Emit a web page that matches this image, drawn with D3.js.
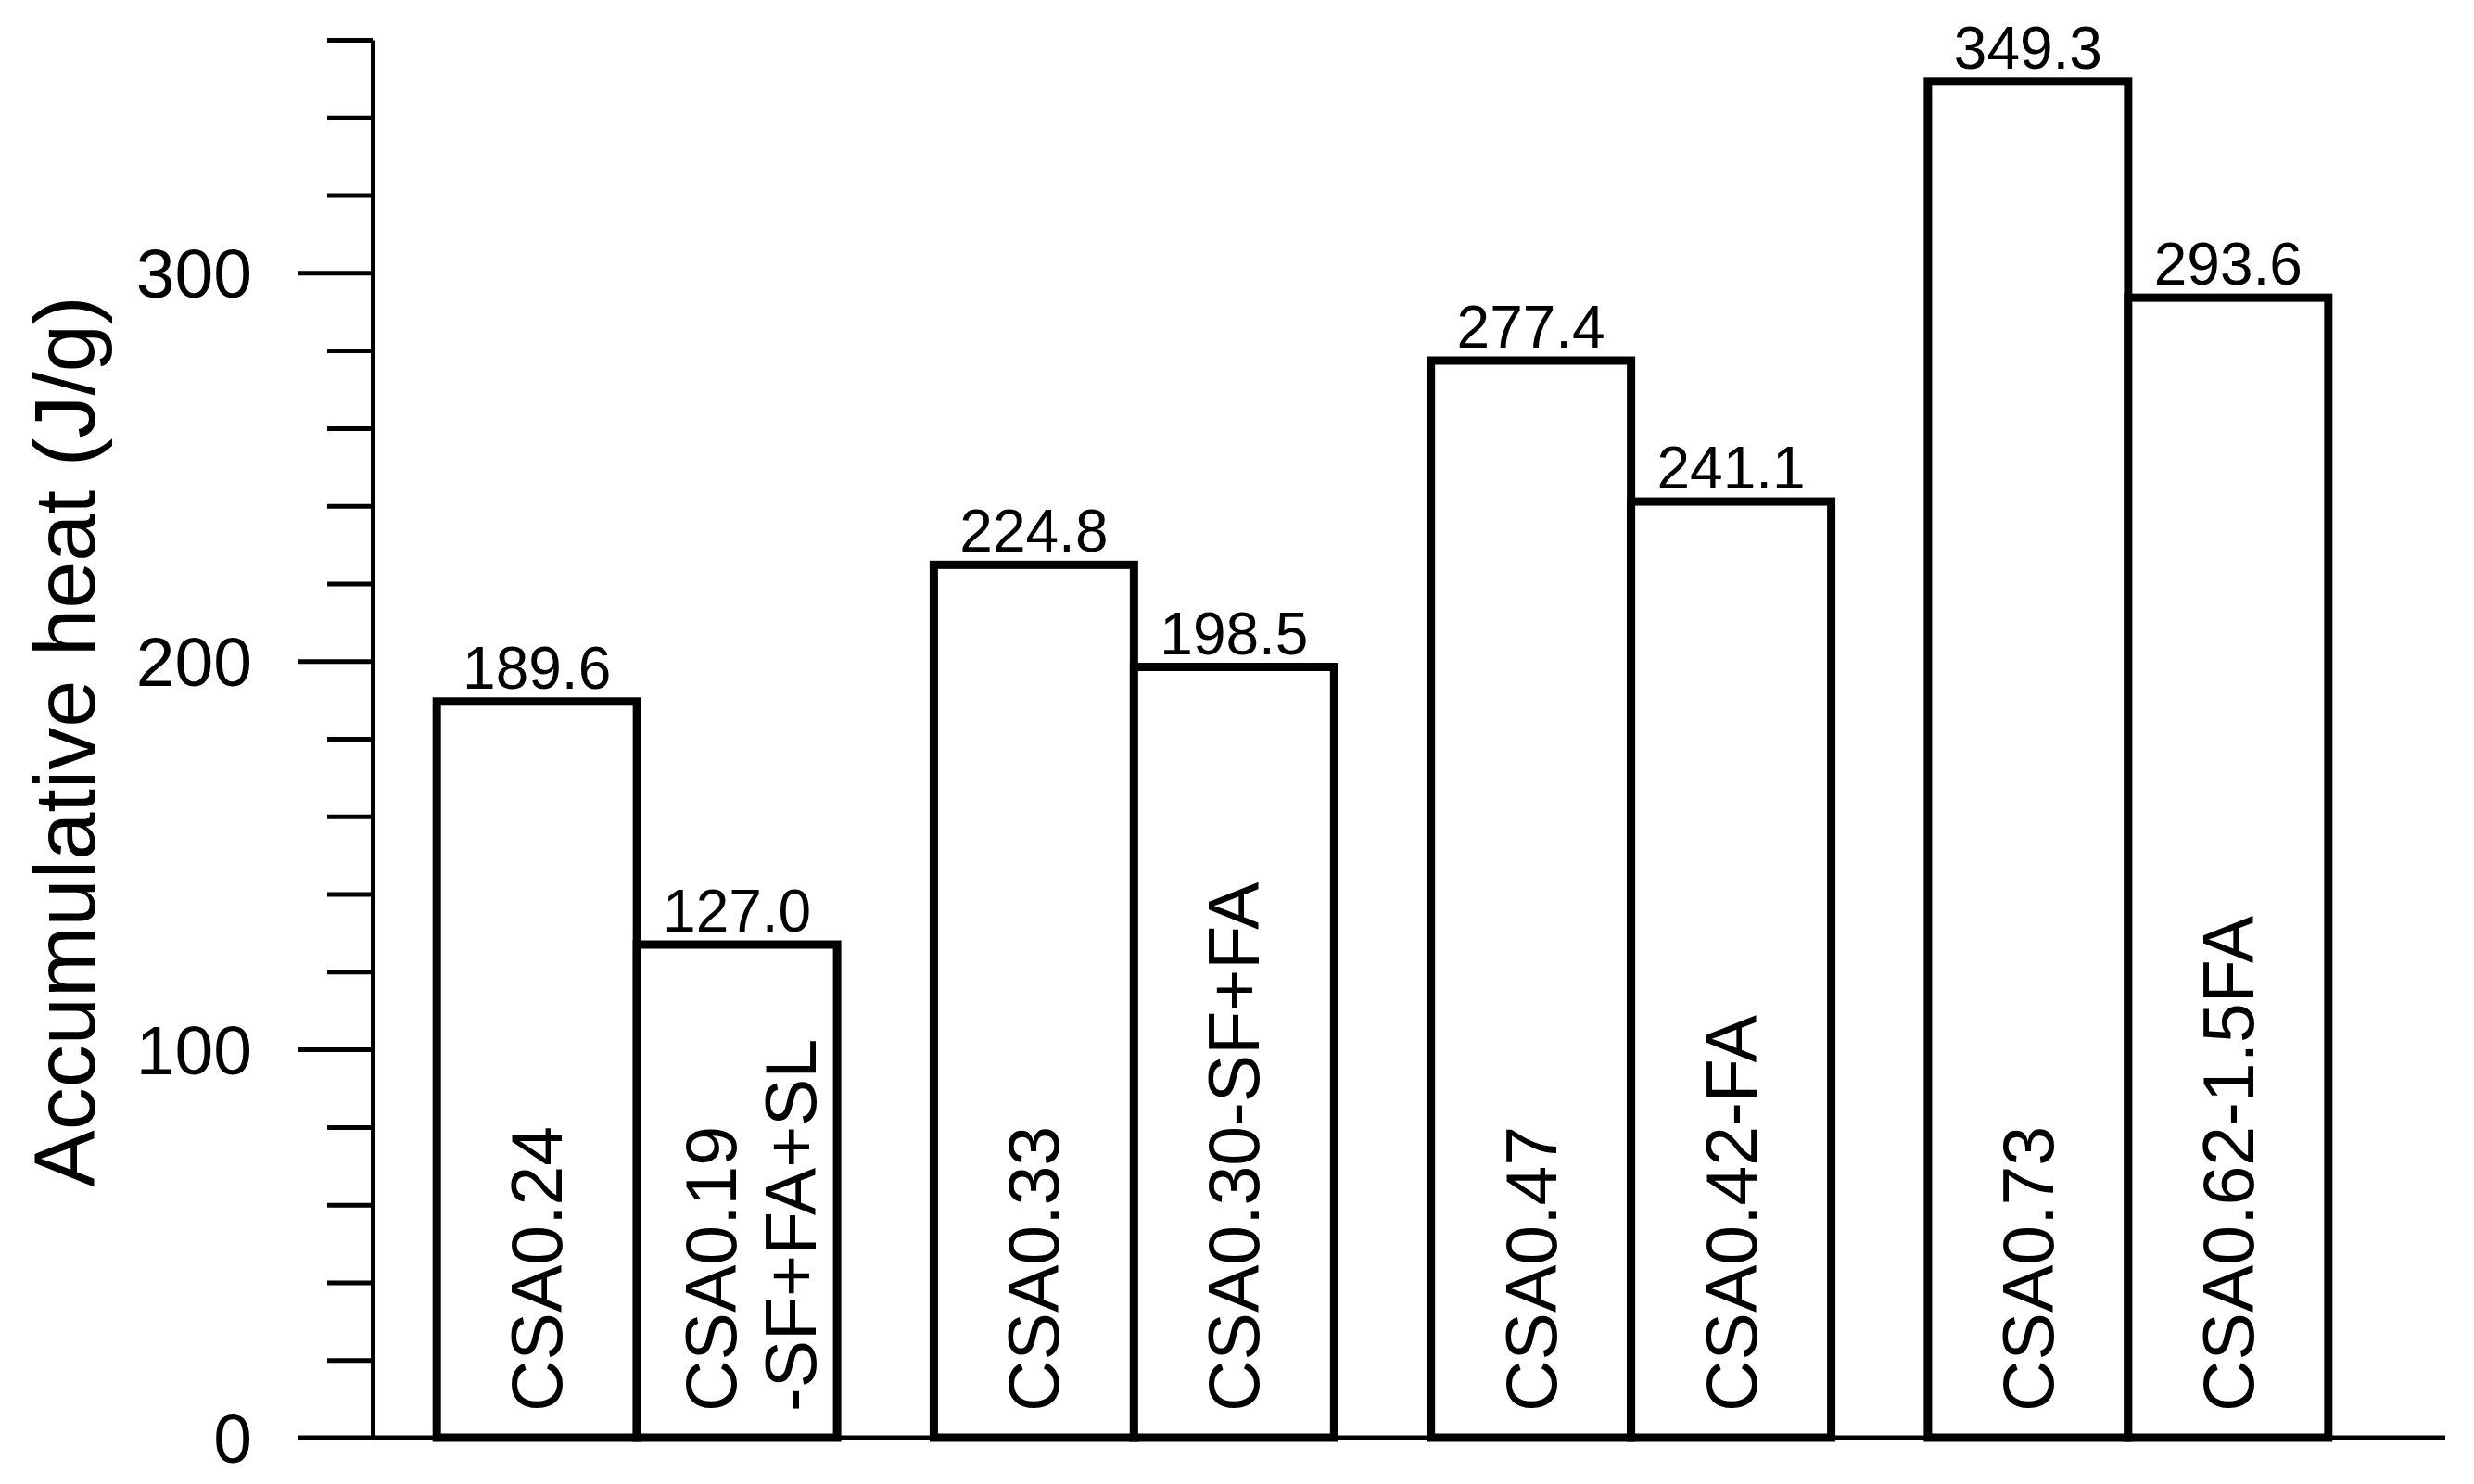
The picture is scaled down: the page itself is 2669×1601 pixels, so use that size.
<!DOCTYPE html>
<html>
<head>
<meta charset="utf-8">
<script src="https://cdn.jsdelivr.net/npm/d3@7"></script>
<style>
  body { margin: 0; background: #fff; }
  text { font-family: "Liberation Sans", Arial, sans-serif; fill: #000; }
</style>
</head>
<body>
<svg width="2669" height="1601"></svg>
<script>
// plain mixes and their blended counterparts, side by side in each group
const plainMixes = ["CSA0.24", "CSA0.33", "CSA0.47", "CSA0.73"];
const plainHeat = [189.6, 224.8, 277.4, 349.3];
const blendMixes = [["CSA0.19", "-SF+FA+SL"], ["CSA0.30-SF+FA"], ["CSA0.42-FA"], ["CSA0.62-1.5FA"]];
const blendHeat = [127.0, 198.5, 241.1, 293.6];
const yMajor = [0, 100, 200, 300];
const yMinorStep = 20;
const yMax = 360;

var svg = d3.select("svg");

var axisX = 402, baseY = 1551, topY = 43;

var y = d3.scaleLinear().domain([0, yMax]).range([baseY, topY]);

var x = d3.scaleBand()
    .domain(d3.range(plainMixes.length))
    .range([axisX, 2581])
    .paddingInner(0.1945)
    .paddingOuter(0.129);

var sub = d3.scaleBand().domain([0, 1]).range([0, x.bandwidth()]);

var bars = [];
plainMixes.forEach(function(m, i) {
  bars.push({ g: i, s: 0, name: [m], v: plainHeat[i] });
  bars.push({ g: i, s: 1, name: blendMixes[i], v: blendHeat[i] });
});

// x baseline
svg.append("line")
    .attr("x1", 322).attr("x2", 2638)
    .attr("y1", baseY).attr("y2", baseY)
    .attr("stroke", "#000").attr("stroke-width", 5);

// y axis
var yAxis = d3.axisLeft(y)
    .tickValues(d3.range(0, yMax + 1, yMinorStep))
    .tickSizeInner(49)
    .tickSizeOuter(0)
    .tickPadding(81)
    .tickFormat(function(d) { return yMajor.indexOf(d) >= 0 ? d : ""; });

var ya = svg.append("g")
    .attr("transform", "translate(" + axisX + ",0)")
    .call(yAxis);

ya.select(".domain").attr("stroke", "#000").attr("stroke-width", 5);
ya.selectAll(".tick line").attr("stroke", "#000").attr("stroke-width", 5)
    .filter(function(d) { return yMajor.indexOf(d) >= 0; })
    .attr("x2", -80);
ya.selectAll(".tick text")
    .attr("font-size", "75px")
    .attr("font-family", null)
    .attr("dy", "0.35em");

// bars
var bar = svg.append("g").selectAll("g")
    .data(bars)
    .enter().append("g")
    .attr("transform", function(d) { return "translate(" + (x(d.g) + sub(d.s)) + ",0)"; });

bar.append("rect")
    .attr("x", 0)
    .attr("y", function(d) { return y(d.v); })
    .attr("width", sub.bandwidth())
    .attr("height", function(d) { return baseY - y(d.v); })
    .attr("fill", "#fff")
    .attr("stroke", "#000")
    .attr("stroke-width", 9);

// value on top
bar.append("text")
    .attr("x", sub.bandwidth() / 2)
    .attr("y", function(d) { return y(d.v) - 14; })
    .attr("text-anchor", "middle")
    .attr("font-size", "64px")
    .text(function(d) { return d3.format(".1f")(d.v); });

// mix name, written upward inside the bar
var nameText = bar.append("text")
    .attr("transform", "translate(" + (sub.bandwidth() / 2) + "," + (baseY - 28) + ") rotate(-90)")
    .attr("font-size", "77px");

nameText.each(function(d) {
  var t = d3.select(this);
  if (d.name.length === 1) {
    t.append("tspan").attr("x", 0).attr("y", 27).text(d.name[0]);
  } else {
    t.append("tspan").attr("x", 0).attr("y", -1).text(d.name[0]);
    t.append("tspan").attr("x", 0).attr("y", 85).text(d.name[1]);
  }
});

// y title
svg.append("text")
    .attr("transform", "translate(102,800) rotate(-90)")
    .attr("text-anchor", "middle")
    .attr("font-size", "92px")
    .text("Accumulative heat (J/g)");
</script>
</body>
</html>
